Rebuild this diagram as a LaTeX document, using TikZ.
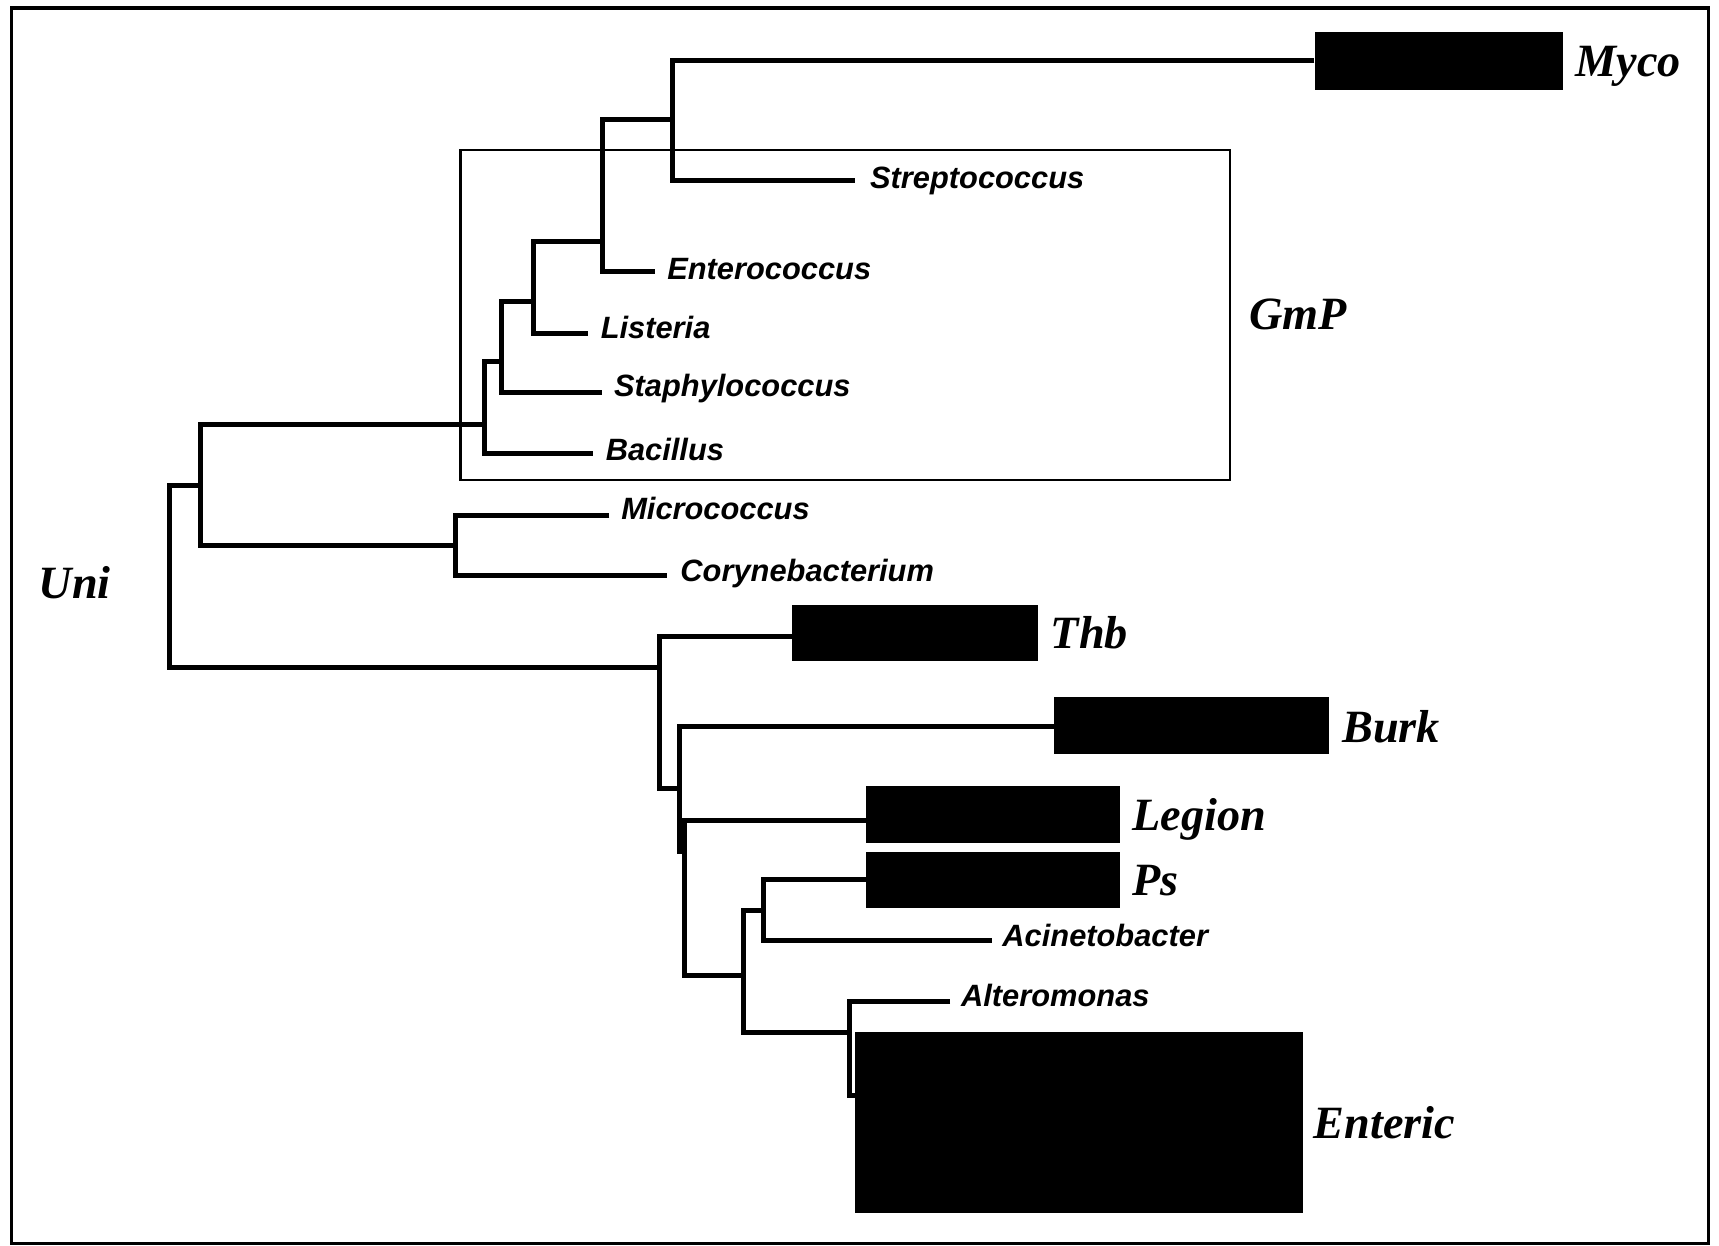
\documentclass[tikz,border=0pt]{standalone}
\usepackage{fontspec}
\setmainfont{Liberation Serif}
\setsansfont{Liberation Sans}
\begin{document}
\begin{tikzpicture}[x=0.1mm,y=-0.1mm,
  br/.style={line width=1.3pt, line join=miter},
  taxon/.style={font=\sffamily\bfseries\itshape\fontsize{8}{9}\selectfont, anchor=base west, inner sep=0pt},
  grp/.style={font=\rmfamily\bfseries\itshape\fontsize{12}{14}\selectfont, anchor=base west, inner sep=0pt},
  blk/.style={fill=black, draw=none, inner sep=0pt, anchor=north west}]
\useasboundingbox (0,0) rectangle (1568,1136);
% outer frame
\draw[line width=0.8pt] (10.2,7.3) rectangle (1558,1134);
% Gram-positive box
\node[draw, line width=0.6pt, inner sep=0pt, anchor=north west, minimum width=70.2mm, minimum height=30.05mm] (gmpbox) at (419,136) {};
% black group boxes
\node[blk, minimum width=22.68mm, minimum height=5.23mm] (mycobox) at (1198.6,28.9) {};
\node[blk, minimum width=22.5mm, minimum height=5.1mm] (thbbox) at (721.5,551) {};
\node[blk, minimum width=25.08mm, minimum height=5.16mm] (burkbox) at (960.8,635.5) {};
\node[blk, minimum width=23.2mm, minimum height=5.16mm] (legionbox) at (789,716.7) {};
\node[blk, minimum width=23.2mm, minimum height=5.16mm] (psbox) at (789,776) {};
\node[blk, minimum width=40.86mm, minimum height=16.45mm] (entbox) at (779.4,941) {};
% group labels
\node[grp] (myco) at (1436.7,70) {Myco};
\node[grp] (gmp) at (1138.7,301) {GmP};
\node[grp] (uni) at (34.6,545.8) {Uni};
\node[grp] (thb) at (957.8,591.4) {Thb};
\node[grp] (burk) at (1223.8,677.1) {Burk};
\node[grp] (legion) at (1032.3,757.1) {Legion};
\node[grp] (ps) at (1032.3,816.4) {Ps};
\node[grp] (enteric) at (1197.7,1038.3) {Enteric};
% taxon labels
\node[taxon] (strep) at (793,171.8) {Streptococcus};
\node[taxon] (entero) at (608,254.5) {Enterococcus};
\node[taxon] (list) at (547.3,308.6) {Listeria};
\node[taxon] (staph) at (559.5,361.8) {Staphylococcus};
\node[taxon] (bac) at (551.9,419.6) {Bacillus};
\node[taxon] (micro) at (566,474.3) {Micrococcus};
\node[taxon] (cory) at (620,530) {Corynebacterium};
\node[taxon] (acine) at (913.7,863.5) {Acinetobacter};
\node[taxon] (altero) at (876,918.2) {Alteromonas};
% leaf line ends
\coordinate (mycoE) at (1199,55.3);
\coordinate (strepE) at (780,164.2);
\coordinate (enteroE) at (597.5,247.8);
\coordinate (listE) at (536.4,304);
\coordinate (staphE) at (549.4,357.9);
\coordinate (bacE) at (541.2,414);
\coordinate (microE) at (555.9,469.8);
\coordinate (coryE) at (608.8,525.1);
\coordinate (thbE) at (722,580.7);
\coordinate (burkE) at (961,662.8);
\coordinate (legionE) at (789.5,748);
\coordinate (psE) at (789.5,801.8);
\coordinate (acineE) at (904.6,857.5);
\coordinate (alteroE) at (866.6,913.7);
\coordinate (enterE) at (780,999);
% internal nodes (x of vertical, y of attachment to parent)
\coordinate (n1) at (613.6,108.8);
\coordinate (n2) at (549.4,220.4);
\coordinate (n3) at (486.5,275.2);
\coordinate (n4) at (457.6,330);
\coordinate (n5) at (442,387);
\coordinate (n6) at (183,442.4);
\coordinate (n7) at (415.4,497.5);
\coordinate (root) at (154.7,530);
\coordinate (n8) at (601.5,608.7);
\coordinate (n9) at (619.4,719);
\coordinate (n10) at (624.5,777);
\coordinate (n11) at (678,889.4);
\coordinate (n12) at (696.5,830.7);
\coordinate (n13) at (774.7,942);
% branches
\draw[br] (mycoE) -| (n1) |- (strepE);
\draw[br] (n1) -| (n2) |- (enteroE);
\draw[br] (n2) -| (n3) |- (listE);
\draw[br] (n3) -| (n4) |- (staphE);
\draw[br] (n4) -| (n5) |- (bacE);
\draw[br] (microE) -| (n7) |- (coryE);
\draw[br] (n5) -| (n6) |- (n7);
\draw[br] (n6) -| (root) |- (n8);
\draw[br] (thbE) -| (n8) |- (n9);
\draw[br] (burkE) -| (n9) |- (n10);
\draw[br] (legionE) -| (n10) |- (n11);
\draw[br] (n12) -| (n11) |- (n13);
\draw[br] (psE) -| (n12) |- (acineE);
\draw[br] (alteroE) -| (n13) |- (enterE);
\end{tikzpicture}
\end{document}
